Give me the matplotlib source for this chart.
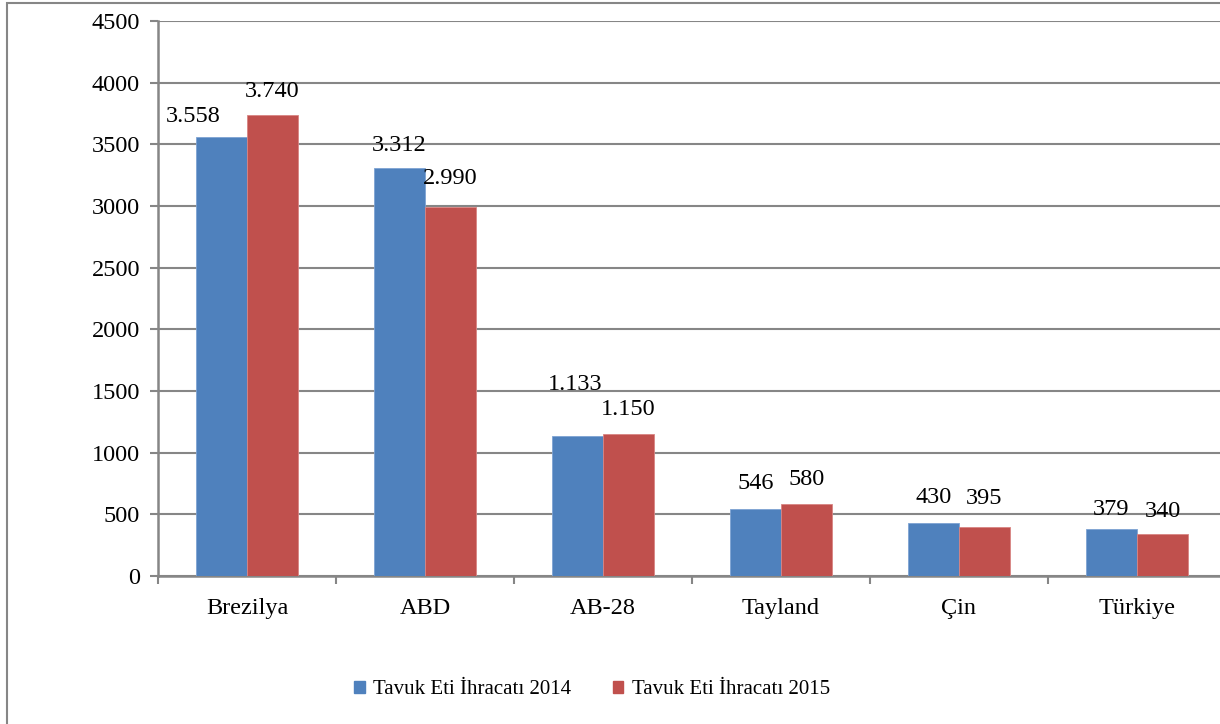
import matplotlib
matplotlib.use("Agg")
import matplotlib.pyplot as plt
import matplotlib.patches as mpatches
import numpy as np

countries = ["Brezilya", "ABD", "AB-28", "Tayland", "Çin", "Türkiye"]
exports_2014 = [3558, 3312, 1133, 546, 430, 379]
exports_2015 = [3740, 2990, 1150, 580, 395, 340]
series_names = ["Tavuk Eti İhracatı 2014", "Tavuk Eti İhracatı 2015"]
yticks = [0, 500, 1000, 1500, 2000, 2500, 3000, 3500, 4000, 4500]

# label offsets in points (dx, dy) as they sit in the original
off_2014 = [(-20, 15), (0, 16), (-2, 37), (0, 18), (0, 18), (0, 14)]
off_2015 = [(0, 17), (0, 21), (0, 18), (0, 18), (0, 21), (0, 16)]

c_blue = "#4F81BD"
c_red = "#C0504D"
c_gray = "#868686"

plt.rcParams["font.family"] = ["Liberation Serif", "DejaVu Serif"]
fig = plt.figure(figsize=(12.2, 7.24), dpi=100)
ax = fig.add_axes([158 / 1220, 1 - 576 / 724, (1226 - 158) / 1220, (576 - 21) / 724])

x = np.arange(len(countries))
w = 0.287
b1 = ax.bar(x - w / 2, exports_2014, w, color=c_blue, edgecolor="#7ea3d3", linewidth=0.6, zorder=3)
b2 = ax.bar(x + w / 2, exports_2015, w, color=c_red, edgecolor="#d88583", linewidth=0.6, zorder=3)

def fmt(v):
    return f"{v:,}".replace(",", ".")

for rects, vals, offs in [(b1, exports_2014, off_2014), (b2, exports_2015, off_2015)]:
    for r, v, (dx, dy) in zip(rects, vals, offs):
        ax.annotate(fmt(v), (r.get_x() + r.get_width() / 2, v), xytext=(dx, dy),
                    textcoords="offset points", ha="center", va="center",
                    fontsize=17.5, zorder=4)

ax.set_xlim(-0.5, len(countries) - 0.5)
ax.set_ylim(0, 4500)
ax.set_yticks(yticks)
ax.yaxis.grid(True, color=c_gray, linewidth=1.5, zorder=0)
ax.set_axisbelow(True)

ax.set_xticks(x)
ax.set_xticklabels(countries, fontsize=17.5)
ax.set_xticks(np.arange(len(countries) + 1) - 0.5, minor=True)
ax.tick_params(axis="x", which="major", length=0, pad=16)
ax.tick_params(axis="x", which="minor", length=6, width=1.5, color=c_gray, direction="out")
ax.tick_params(axis="y", length=6, width=1.5, color=c_gray, labelsize=17.5, pad=7)

for s in ["top", "right"]:
    ax.spines[s].set_visible(False)
for s in ["left", "bottom"]:
    ax.spines[s].set_color(c_gray)
    ax.spines[s].set_linewidth(1.8)

handles = [mpatches.Patch(color=c_blue, label=series_names[0]),
           mpatches.Patch(color=c_red, label=series_names[1])]
fig.legend(handles=handles, loc="center", bbox_to_anchor=(592 / 1220, 1 - 690 / 724),
           ncol=2, frameon=False, fontsize=15, handlelength=0.5, handleheight=0.5,
           handletextpad=0.4, columnspacing=2.0)

# outer chart frame
fig.add_artist(mpatches.Rectangle((7 / 1220, -0.05), 1.1, 1 - 3 / 724 + 0.05,
                                  transform=fig.transFigure, fill=False,
                                  edgecolor=c_gray, linewidth=1.5))

fig.savefig("out.png", dpi=100)
